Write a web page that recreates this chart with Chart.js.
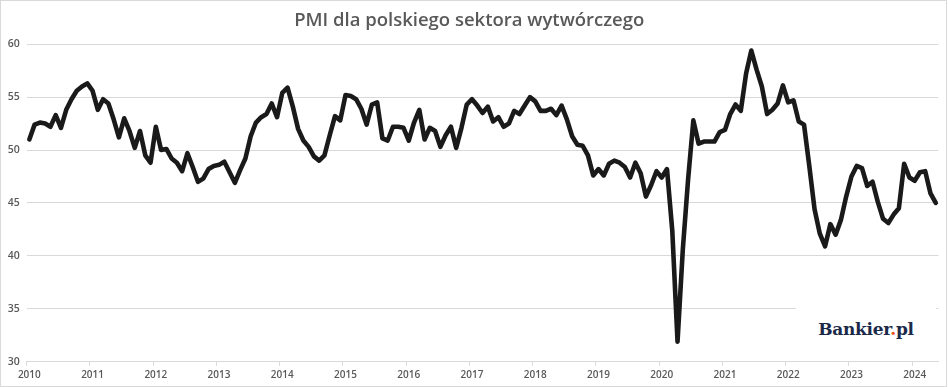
<!DOCTYPE html>
<html>
<head>
<meta charset="utf-8">
<title>PMI dla polskiego sektora wytwórczego</title>
<script src="https://cdn.jsdelivr.net/npm/chart.js@4.4.1/dist/chart.umd.min.js"></script>
<style>
    body { margin: 0; background: #fff; }
    #wrap { position: relative; width: 948px; height: 387px; }
    #frame {
        position: absolute; left: 0; top: 0; width: 947px; height: 387px;
        box-sizing: border-box; border: 1px solid #d9d9d9; pointer-events: none;
    }
    #logo {
        position: absolute; left: 796px; top: 304px; width: 140px; height: 50px;
        background: #fff; text-align: center;
        font: bold 17px "DejaVu Serif", serif; color: #1b2a4a; line-height: 50px;
        letter-spacing: -0.3px;
    }
    #logo span { color: #e8501e; }
</style>
</head>
<body>
<div id="wrap">
    <canvas id="pmiChart" width="948" height="387"></canvas>
    <div id="logo">Bankier<span>.</span>pl</div>
    <div id="frame"></div>
</div>
<script>
// dane miesięczne od stycznia 2010 do maja 2024
const startYear = 2010;
const yearLabels = ['2010', '2011', '2012', '2013', '2014', '2015', '2016', '2017',
    '2018', '2019', '2020', '2021', '2022', '2023', '2024'];
const pmi2010 = [51.0, 52.4, 52.6, 52.5, 52.2, 53.3, 52.1, 53.8, 54.8, 55.6, 56.0, 56.3];
const pmi2011 = [55.6, 53.8, 54.8, 54.4, 52.9, 51.2, 53.0, 51.8, 50.2, 51.8, 49.5, 48.8];
const pmi2012 = [52.2, 50.0, 50.1, 49.2, 48.8, 48.0, 49.7, 48.4, 47.0, 47.3, 48.2, 48.5];
const pmi2013 = [48.6, 48.9, 47.9, 46.9, 48.1, 49.2, 51.3, 52.6, 53.1, 53.4, 54.4, 53.1];
const pmi2014 = [55.4, 55.9, 54.1, 52.0, 50.9, 50.3, 49.4, 49.0, 49.5, 51.4, 53.2, 52.8];
const pmi2015 = [55.2, 55.1, 54.8, 53.9, 52.4, 54.3, 54.5, 51.1, 50.9, 52.2, 52.2, 52.1];
const pmi2016 = [50.9, 52.6, 53.8, 51.0, 52.1, 51.8, 50.3, 51.4, 52.2, 50.2, 52.1, 54.3];
const pmi2017 = [54.8, 54.2, 53.5, 54.1, 52.7, 53.1, 52.2, 52.5, 53.7, 53.4, 54.2, 55.0];
const pmi2018 = [54.6, 53.7, 53.7, 53.9, 53.3, 54.2, 52.9, 51.3, 50.5, 50.4, 49.5, 47.6];
const pmi2019 = [48.2, 47.6, 48.7, 49.0, 48.8, 48.4, 47.4, 48.8, 47.8, 45.6, 46.7, 48.0];
const pmi2020 = [47.4, 48.2, 42.4, 31.9, 40.6, 47.2, 52.8, 50.6, 50.8, 50.8, 50.8, 51.7];
const pmi2021 = [51.9, 53.4, 54.3, 53.7, 57.2, 59.4, 57.6, 56.0, 53.4, 53.8, 54.4, 56.1];
const pmi2022 = [54.5, 54.7, 52.7, 52.4, 48.5, 44.4, 42.1, 40.9, 43.0, 42.0, 43.4, 45.6];
const pmi2023 = [47.5, 48.5, 48.3, 46.6, 47.0, 45.1, 43.5, 43.1, 43.9, 44.5, 48.7, 47.4];
const pmi2024 = [47.1, 47.9, 48.0, 45.9, 45.0];

const pmi = [].concat(pmi2010, pmi2011, pmi2012, pmi2013, pmi2014, pmi2015, pmi2016,
    pmi2017, pmi2018, pmi2019, pmi2020, pmi2021, pmi2022, pmi2023, pmi2024);

// etykiety miesięcy: rok tylko przy styczniu
const labels = pmi.map((_, i) => (i % 12 === 0 ? yearLabels[i / 12] : String(startYear + Math.floor(i / 12)) + '-' + (i % 12 + 1)));

const gray = '#595959';
const gridColor = '#d9d9d9';

new Chart(document.getElementById('pmiChart').getContext('2d'), {
    type: 'line',
    data: {
        labels: labels,
        datasets: [{
            label: 'PMI',
            data: pmi,
            borderColor: '#1a1a1a',
            borderWidth: 4.6,
            pointRadius: 0,
            borderJoinStyle: 'round',
            borderCapStyle: 'round',
            tension: 0,
            fill: false
        }]
    },
    options: {
        responsive: false,
        animation: false,
        events: [],
        layout: { padding: { left: 0, right: 9.6, top: 0, bottom: 0 } },
        plugins: {
            legend: { display: false },
            tooltip: { enabled: false },
            title: {
                display: true,
                text: 'PMI dla polskiego sektora wytwórczego',
                color: gray,
                font: { family: '"Open Sans", sans-serif', size: 18.5, weight: '600' },
                padding: { top: 10, bottom: 12 }
            }
        },
        scales: {
            x: {
                type: 'category',
                offset: true,
                border: { display: true, color: gridColor },
                grid: {
                    offset: true,
                    drawOnChartArea: false,
                    tickLength: 4,
                    color: ctx => (ctx.index % 12 === 0 ? gridColor : 'rgba(0,0,0,0)')
                },
                ticks: {
                    autoSkip: false,
                    maxRotation: 0,
                    padding: 3,
                    color: gray,
                    font: { family: '"Open Sans", sans-serif', size: 10, weight: '600' },
                    callback: (value, index) => (index % 12 === 0 ? yearLabels[index / 12] : '')
                },
                afterFit: scale => { scale.height = 25.3; }
            },
            y: {
                min: 30,
                max: 60,
                border: { display: false },
                grid: { color: gridColor, drawTicks: false },
                ticks: {
                    stepSize: 5,
                    padding: 7,
                    color: gray,
                    font: { family: '"Open Sans", sans-serif', size: 10.5, weight: '600' }
                },
                afterFit: scale => { scale.width = 26.7; }
            }
        }
    }
});
</script>
</body>
</html>
